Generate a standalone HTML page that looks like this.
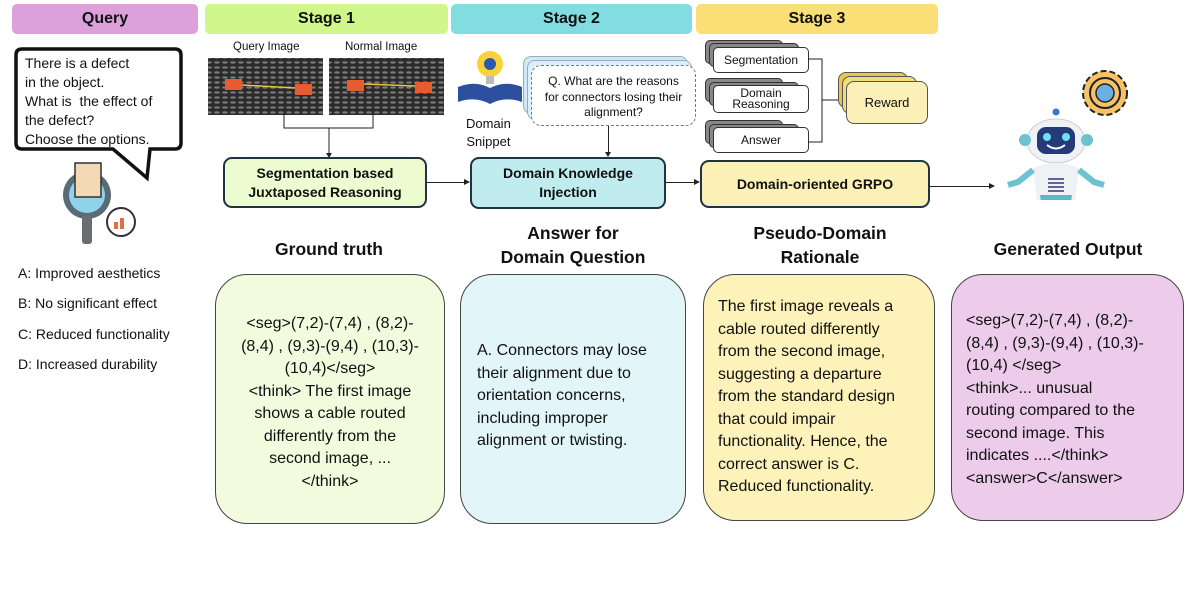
<!DOCTYPE html>
<html><head><meta charset="utf-8"><style>
*{margin:0;padding:0;box-sizing:border-box}
body{width:1198px;height:598px;background:#fff;position:relative;overflow:hidden;font-family:"Liberation Sans",sans-serif;color:#111}
.a{position:absolute}
.hdr{position:absolute;top:4px;height:30px;border-radius:5px;font-weight:bold;font-size:16px;text-align:center;line-height:30px}
.box{position:absolute;border:2px solid #1f3440;border-radius:9px;font-weight:bold;font-size:14px;text-align:center;display:flex;align-items:center;justify-content:center;line-height:19px}
.big{position:absolute;border:1.5px solid #444;border-radius:32px;font-size:16px;line-height:22.5px;padding:0 12px}
.ttl{position:absolute;font-weight:bold;font-size:17.5px;text-align:center;line-height:24px}
.sm{position:absolute;background:#fff;border:1.5px solid #333;border-radius:5px;font-size:12px;text-align:center;display:flex;align-items:center;justify-content:center;line-height:11px}
.sh{position:absolute;background:#888;border:1.5px solid #333;border-radius:5px}
.ln{position:absolute;background:#222}
.opt{position:absolute;left:18px;font-size:14px}
</style></head><body>
<div class="hdr" style="left:12px;width:186px;background:#dca0da">Query</div>
<div class="hdr" style="left:205px;width:243px;background:#cff78c">Stage 1</div>
<div class="hdr" style="left:451px;width:241px;background:#82dde1">Stage 2</div>
<div class="hdr" style="left:696px;width:242px;background:#f9df75">Stage 3</div>

<!-- speech bubble -->
<svg class="a" style="left:0;top:0" width="200" height="250">
<path d="M22,49 H175 Q181,49 181,55 V143 Q181,149 175,149 H150 L147,178 L113,149 H22 Q16,149 16,143 V55 Q16,49 22,49 Z" fill="#fff" stroke="#111" stroke-width="3.5"/>
<circle cx="87" cy="195" r="24" fill="#5a6b76"/><circle cx="87" cy="195" r="18" fill="#8fd3ea"/>
<rect x="82" y="216" width="10" height="28" rx="3" fill="#6a6e72"/>
<rect x="75" y="163" width="26" height="34" fill="#f3d9b5" stroke="#333" stroke-width="1.5"/>
<circle cx="121" cy="222" r="14" fill="#fff" stroke="#333" stroke-width="2"/>
<rect x="114" y="222" width="4" height="7" fill="#e07040"/><rect x="120" y="218" width="4" height="11" fill="#e07040"/>
</svg>
<div class="a" style="left:25px;top:54px;font-size:14px;line-height:19px">There is a defect<br>in the object.<br>What is &nbsp;the effect of<br>the defect?<br>Choose the options.</div>
<div class="opt" style="top:265px">A: Improved aesthetics</div>
<div class="opt" style="top:295px">B: No significant effect</div>
<div class="opt" style="top:326px">C: Reduced functionality</div>
<div class="opt" style="top:356px">D: Increased durability</div>

<!-- stage1 images -->
<div class="a" style="left:233px;top:41px;font-size:11.5px">Query Image</div>
<div class="a" style="left:345px;top:41px;font-size:11.5px">Normal Image</div>
<svg class="a" style="left:205px;top:55px" width="245" height="110">
<defs><pattern id="m" width="8" height="5" patternUnits="userSpaceOnUse"><rect width="8" height="5" fill="#2a2a2a"/><ellipse cx="4" cy="2.5" rx="3" ry="1.3" fill="#777"/></pattern></defs>
<rect x="3" y="3" width="115" height="57" fill="url(#m)"/>
<rect x="124" y="3" width="115" height="57" fill="url(#m)"/>
<rect x="20" y="24" width="17" height="11" fill="#e85a30"/><rect x="90" y="29" width="17" height="11" fill="#e85a30"/><line x1="37" y1="30" x2="90" y2="33" stroke="#e8c040" stroke-width="1.5"/>
<rect x="142" y="25" width="17" height="11" fill="#e85a30"/><rect x="210" y="27" width="17" height="11" fill="#e85a30"/><line x1="159" y1="29" x2="210" y2="31" stroke="#e8c040" stroke-width="1.5"/>
<path d="M79,60 V73 H168 V60 M124,73 V100" fill="none" stroke="#222" stroke-width="1"/>
<path d="M121,98 L124,103 L127,98 Z" fill="#222"/>
</svg>
<div class="box" style="left:223px;top:157px;width:204px;height:51px;background:#edfcd0">Segmentation based<br>Juxtaposed Reasoning</div>
<div class="ln" style="left:427px;top:182px;width:40px;height:1px"></div>
<div class="a" style="left:464px;top:179px;border-left:6px solid #222;border-top:3.5px solid transparent;border-bottom:3.5px solid transparent"></div>

<!-- stage2 -->
<svg class="a" style="left:455px;top:42px" width="70" height="65">
<circle cx="35" cy="22" r="13" fill="#f7d23a"/><circle cx="35" cy="22" r="6" fill="#2c5aa8"/>
<rect x="31" y="34" width="8" height="8" fill="#bbb"/>
<path d="M3,45 Q20,38 35,46 Q50,38 67,45 V60 Q50,54 35,62 Q20,54 3,60 Z" fill="#2c4fa0"/>
</svg>
<div class="a" style="left:466px;top:115px;font-size:13px;text-align:center;line-height:18px">Domain<br>Snippet</div>
<div class="a" style="left:523px;top:56px;width:165px;height:58px;background:#cfe9f5;border:1px solid #9ab;border-radius:8px"></div>
<div class="a" style="left:527px;top:60px;width:165px;height:60px;background:#dcefff;border:1px solid #9ab;border-radius:8px"></div>
<div class="a" style="left:531px;top:65px;width:165px;height:61px;background:#fff;border:1px dashed #777;border-radius:10px;font-size:12px;text-align:center;line-height:15.5px;padding-top:8px">Q. What are the reasons<br>for connectors losing their<br>alignment?</div>
<div class="ln" style="left:608px;top:126px;width:1px;height:28px"></div>
<div class="a" style="left:605px;top:152px;border-top:5px solid #222;border-left:3.5px solid transparent;border-right:3.5px solid transparent"></div>
<div class="box" style="left:470px;top:157px;width:196px;height:52px;background:#c0ecef">Domain Knowledge<br>Injection</div>
<div class="ln" style="left:666px;top:182px;width:30px;height:1px"></div>
<div class="a" style="left:694px;top:179px;border-left:6px solid #222;border-top:3.5px solid transparent;border-bottom:3.5px solid transparent"></div>

<!-- stage3 -->
<div class="sh" style="left:705px;top:40px;width:78px;height:24px"></div><div class="sh" style="left:709px;top:43px;width:90px;height:24px"></div>
<div class="sm" style="left:713px;top:47px;width:96px;height:26px">Segmentation</div>
<div class="sh" style="left:705px;top:78px;width:78px;height:24px"></div><div class="sh" style="left:709px;top:82px;width:90px;height:24px"></div>
<div class="sm" style="left:713px;top:85px;width:96px;height:28px">Domain<br>Reasoning</div>
<div class="sh" style="left:705px;top:120px;width:78px;height:24px"></div><div class="sh" style="left:709px;top:124px;width:90px;height:24px"></div>
<div class="sm" style="left:713px;top:127px;width:96px;height:26px">Answer</div>
<svg class="a" style="left:808px;top:55px" width="45" height="90"><path d="M0,4 H14 V87 H0 M14,45 H35" fill="none" stroke="#222" stroke-width="1"/><path d="M33,42 L39,45 L33,48 Z" fill="#222"/></svg>
<div class="a" style="left:838px;top:72px;width:70px;height:36px;background:#e8c84a;border:1.5px solid #555;border-radius:8px"></div>
<div class="a" style="left:842px;top:76px;width:75px;height:38px;background:#f3dc80;border:1.5px solid #555;border-radius:8px"></div>
<div class="a" style="left:846px;top:81px;width:82px;height:43px;background:#fbf0b8;border:1.5px solid #555;border-radius:8px;font-size:13px;display:flex;align-items:center;justify-content:center">Reward</div>
<div class="box" style="left:700px;top:160px;width:230px;height:48px;background:#fbf0b5">Domain-oriented GRPO</div>
<div class="ln" style="left:930px;top:186px;width:60px;height:1px"></div>
<div class="a" style="left:989px;top:183px;border-left:6px solid #222;border-top:3.5px solid transparent;border-bottom:3.5px solid transparent"></div>

<!-- robot -->
<svg class="a" style="left:1000px;top:60px" width="140" height="140">
<circle cx="56" cy="52" r="3.5" fill="#3a78d0"/>
<ellipse cx="56" cy="81" rx="29" ry="22" fill="#eef2f4" stroke="#ccd" />
<circle cx="25" cy="80" r="6" fill="#6cc2cf"/><circle cx="87" cy="80" r="6" fill="#6cc2cf"/>
<rect x="37" y="67" width="38" height="27" rx="9" fill="#253a78"/>
<circle cx="47" cy="77" r="4" fill="#6ee0f0"/><circle cx="66" cy="77" r="4" fill="#6ee0f0"/>
<path d="M47,85 Q56,92 65,85" fill="none" stroke="#fff" stroke-width="2"/>
<path d="M33,108 Q56,98 79,108 L74,150 H38 Z" fill="#eef2f4"/>
<path d="M40,135 H72 L70,150 H42 Z" fill="#5bb8c6"/>
<g stroke="#2a3a70" stroke-width="1.5"><line x1="48" y1="119" x2="64" y2="119"/><line x1="48" y1="123" x2="64" y2="123"/><line x1="48" y1="127" x2="64" y2="127"/><line x1="48" y1="131" x2="64" y2="131"/></g>
<path d="M33,110 L18,122 L8,125" fill="none" stroke="#6cc2cf" stroke-width="6"/>
<path d="M79,110 L94,122 L104,125" fill="none" stroke="#6cc2cf" stroke-width="6"/>
<circle cx="105" cy="33" r="22" fill="#f5c265" stroke="#222" stroke-width="2" stroke-dasharray="6 3"/>
<circle cx="105" cy="33" r="15" fill="#f5c265" stroke="#222" stroke-width="2"/>
<circle cx="105" cy="33" r="9" fill="#6ab0e0" stroke="#222" stroke-width="1.5"/>
</svg>

<!-- titles -->
<div class="ttl" style="left:215px;width:228px;top:237px">Ground truth</div>
<div class="ttl" style="left:460px;width:226px;top:221px">Answer for<br>Domain Question</div>
<div class="ttl" style="left:705px;width:230px;top:221px">Pseudo-Domain<br>Rationale</div>
<div class="ttl" style="left:951px;width:234px;top:237px">Generated Output</div>

<!-- big boxes -->
<div class="big" style="left:215px;top:274px;width:230px;height:250px;background:#f2fbdd;text-align:center;padding-top:38px">&lt;seg&gt;(7,2)-(7,4) , (8,2)-<br>(8,4) , (9,3)-(9,4) , (10,3)-<br>(10,4)&lt;/seg&gt;<br>&lt;think&gt; The first image<br>shows a cable routed<br>differently from the<br>second image, ...<br>&lt;/think&gt;</div>
<div class="big" style="left:460px;top:274px;width:226px;height:250px;background:#e2f6f9;padding-top:65px;padding-left:16px">A. Connectors may lose<br>their alignment due to<br>orientation concerns,<br>including improper<br>alignment or twisting.</div>
<div class="big" style="left:703px;top:274px;width:232px;height:247px;background:#fdf2b9;padding-top:21px;padding-left:14px">The first image reveals a<br>cable routed differently<br>from the second image,<br>suggesting a departure<br>from the standard design<br>that could impair<br>functionality. Hence, the<br>correct answer is C.<br>Reduced functionality.</div>
<div class="big" style="left:951px;top:274px;width:233px;height:247px;background:#ecccea;padding-top:35px;padding-left:14px">&lt;seg&gt;(7,2)-(7,4) , (8,2)-<br>(8,4) , (9,3)-(9,4) , (10,3)-<br>(10,4) &lt;/seg&gt;<br>&lt;think&gt;... unusual<br>routing compared to the<br>second image. This<br>indicates ....&lt;/think&gt;<br>&lt;answer&gt;C&lt;/answer&gt;</div>
</body></html>
